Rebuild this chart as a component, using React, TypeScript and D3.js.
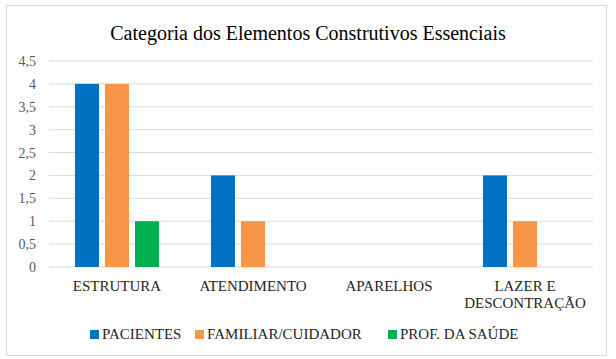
import React from "react";
import * as d3 from "d3";

const categories = ["ESTRUTURA", "ATENDIMENTO", "APARELHOS", "LAZER E DESCONTRAÇÃO"];
const categoryLines = [["ESTRUTURA"], ["ATENDIMENTO"], ["APARELHOS"], ["LAZER E", "DESCONTRAÇÃO"]];
const seriesNames = ["PACIENTES", "FAMILIAR/CUIDADOR", "PROF. DA SAÚDE"];
const pacientes = [4, 2, 0, 2];
const familiar = [4, 1, 0, 1];
const profSaude = [1, 0, 0, 0];
const yTicks = [0, 0.5, 1, 1.5, 2, 2.5, 3, 3.5, 4, 4.5];
const colors = ["#0070C0", "#F79646", "#00B050"];

const W = 616;
const H = 359;
const left = 49;
const right = 593;
const top = 61;
const bottom = 267;
const font = "'Liberation Serif', 'Times New Roman', serif";

export default function App() {
  const series = [pacientes, familiar, profSaude];
  const x = d3.scaleBand<string>().domain(categories).range([left, right]);
  const y = d3.scaleLinear().domain([0, 4.5]).range([bottom, top]);
  const inner = d3
    .scaleBand<number>()
    .domain([0, 1, 2])
    .range([0, 84])
    .paddingInner(0.2);
  const fmt = (v: number) => String(v).replace(".", ",");
  const legendItems = [
    { x: 90, label: seriesNames[0] },
    { x: 195, label: seriesNames[1] },
    { x: 388, label: seriesNames[2] },
  ];
  return (
    <svg
      width={W}
      height={H}
      style={{ position: "absolute", left: 0, top: 0, background: "#fff" }}
      fontFamily={font}
    >
      <rect x={6.5} y={5.5} width={600} height={350} fill="#fff" stroke="#d9d9d9" />
      <text x={308} y={40} textAnchor="middle" fontSize={20} fill="#000">
        Categoria dos Elementos Construtivos Essenciais
      </text>
      {yTicks.map((t) => (
        <g key={t}>
          <line x1={left} x2={right} y1={y(t)} y2={y(t)} stroke="#d9d9d9" strokeWidth={1} />
          <text x={36} y={y(t) + 5} textAnchor="end" fontSize={14} fill="#595959">
            {fmt(t)}
          </text>
        </g>
      ))}
      {categories.map((c, ci) => {
        const gx = (x(c) as number) + x.bandwidth() / 2 - 42;
        return (
          <g key={c}>
            {series.map((s, si) =>
              s[ci] > 0 ? (
                <rect
                  key={si}
                  x={gx + (inner(si) as number)}
                  y={y(s[ci])}
                  width={inner.bandwidth()}
                  height={bottom - y(s[ci])}
                  fill={colors[si]}
                />
              ) : null
            )}
            {categoryLines[ci].map((ln, li) => (
              <text
                key={li}
                x={(x(c) as number) + x.bandwidth() / 2}
                y={291 + li * 17}
                textAnchor="middle"
                fontSize={15}
                fill="#262626"
              >
                {ln}
              </text>
            ))}
          </g>
        );
      })}
      {legendItems.map((it, i) => (
        <g key={i}>
          <rect x={it.x} y={330} width={9} height={9} fill={colors[i]} />
          <text x={it.x + 12} y={339} fontSize={15} fill="#262626">
            {it.label}
          </text>
        </g>
      ))}
    </svg>
  );
}
